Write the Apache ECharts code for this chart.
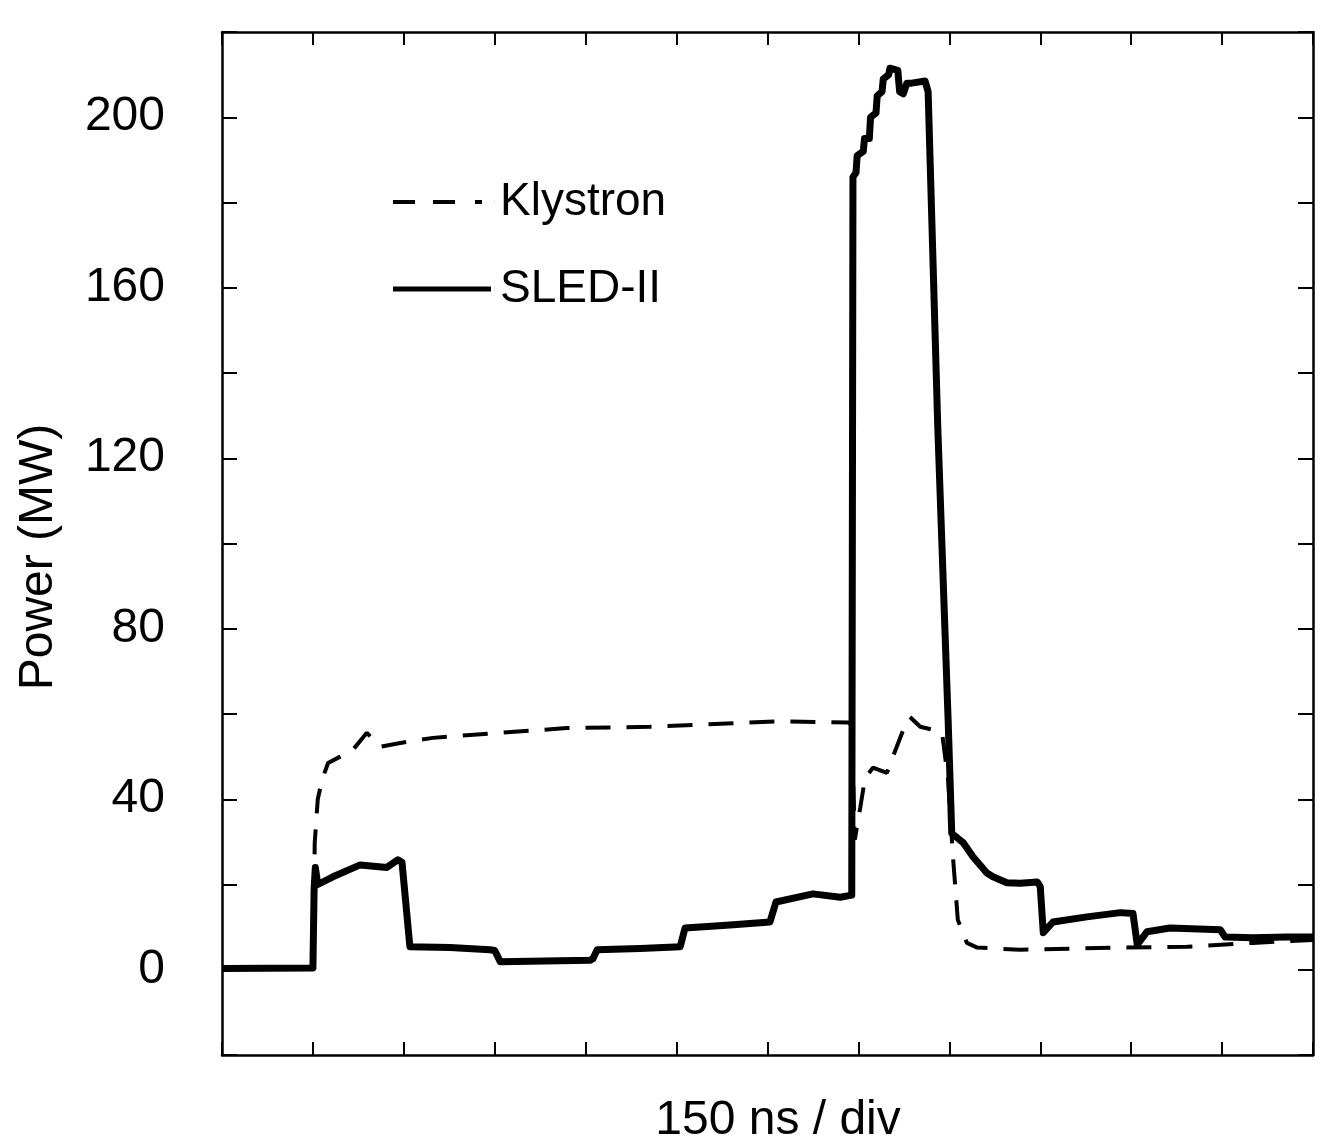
<!DOCTYPE html>
<html>
<head>
<meta charset="utf-8">
<title>Klystron / SLED-II power</title>
<script src="https://cdn.jsdelivr.net/npm/echarts@6/dist/echarts.min.js"></script>
<style>
    html, body { margin: 0; padding: 0; background: #fff; }
    #chart { width: 1332px; height: 1146px; }
</style>
</head>
<body>
<div id="chart"></div>
<script>
// time in ns (150 ns / div), power in MW
const klystronTime = [0, 150, 153, 158, 165, 175, 195, 216, 239, 261, 294, 348, 459, 569, 706, 921, 1033, 1039,
    1044, 1053, 1061, 1074, 1097, 1107, 1124, 1135, 1152, 1173, 1188, 1198, 1206, 1214, 1229, 1246, 1317, 1482, 1592, 1701, 1800];
const klystronPower = [0.3, 0.3, 29.8, 40, 44.5, 48.5, 50, 51.6, 55.6, 52.3, 53.2, 54.4, 55.6, 56.7, 57, 58.3, 58, 57.5,
    30.5, 38, 45, 47.4, 46.2, 50, 56.3, 59.3, 57, 56.3, 55.6, 44.5, 26.5, 11.7, 6.3, 5.2, 4.7, 5.2, 5.4, 6.3, 7];

const sledTime = [0, 150, 152, 154, 158, 183, 228, 272, 290, 297, 310, 376, 442, 450, 459, 607, 612, 619, 690, 756, 764,
    838, 904, 914, 975, 1020, 1039, 1041, 1046, 1048, 1058, 1060, 1068, 1070, 1079, 1081, 1089, 1091, 1100, 1102, 1115,
    1118, 1124, 1130, 1138, 1160, 1165, 1181, 1198,
    1204, 1223, 1239, 1262, 1272, 1295, 1317, 1345, 1350, 1355, 1371, 1427, 1482, 1503, 1510, 1526, 1564, 1647, 1655,
    1701, 1757, 1800];
const sledPower = [0.3, 0.4, 19, 24, 20, 21.8, 24.6, 24, 25.8, 25.2, 5.4, 5.2, 4.7, 4.5, 1.9, 2.2, 2.6, 4.7, 5.0, 5.4, 9.8,
    10.5, 11.2, 15.9, 17.8, 17, 17.5, 186, 187, 191, 192, 195, 195, 200, 201, 205, 206, 209, 210, 211.5, 211,
    206, 205.5, 208, 208, 208.5, 206, 127, 58.6,
    32, 29.8, 26.5, 22.7, 21.8, 20.4, 20.3, 20.6, 19.5, 8.7, 11.2, 12.4, 13.4, 13.2, 5.9, 8.9, 9.8, 9.4, 7.7,
    7.5, 7.7, 7.7];

const yLabels = [0, 40, 80, 120, 160, 200];

(function () {
    const my_echart = echarts.init(document.getElementById("chart"));
    const font = '"Liberation Sans", Arial, Helvetica, sans-serif';
    const pairs = (t, p) => t.map((v, i) => [v, p[i]]);

    // frame axis: line + inward ticks, no labels
    function frameX(position) {
        return {
            type: 'value',
            position: position,
            min: 0,
            max: 1800,
            interval: 150,
            axisLine: { show: true, onZero: false, lineStyle: { color: '#000', width: 2.5 } },
            axisTick: { show: true, inside: true, length: 13, lineStyle: { color: '#000', width: 2 } },
            axisLabel: { show: false },
            splitLine: { show: false }
        };
    }
    function frameY(position, labels) {
        return {
            type: 'value',
            position: position,
            min: -20,
            max: 220,
            interval: 20,
            axisLine: { show: true, onZero: false, lineStyle: { color: '#000', width: 2.5 } },
            axisTick: { show: true, inside: true, length: 15, lineStyle: { color: '#000', width: 2 } },
            axisLabel: {
                show: labels,
                margin: 57,
                color: '#000',
                fontFamily: font,
                fontSize: 48,
                formatter: v => (yLabels.includes(v) ? String(v) : '')
            },
            splitLine: { show: false }
        };
    }

    const dashIcon = 'path://M0,0H22V4H0Z M40,0H62V4H40Z M82,0H89V4H82Z M101.9,0H102V4H101.9Z';
    const solidIcon = 'path://M0,0H98V5H0Z M101.9,0H102V5H101.9Z';
    const legendText = { color: '#000', fontFamily: font, fontSize: 46 };

    let option = {
        backgroundColor: '#fff',
        animation: false,
        grid: { left: 222, top: 32, width: 1091, height: 1023, containLabel: false },
        xAxis: [frameX('bottom'), frameX('top')],
        yAxis: [frameY('left', true), frameY('right', false)],
        legend: [
            {
                data: [{ name: 'Klystron', icon: dashIcon }],
                left: 388, top: 174, itemWidth: 102, itemHeight: 4,
                selectedMode: false, textStyle: legendText
            },
            {
                data: [{ name: 'SLED-II', icon: solidIcon }],
                left: 388, top: 261, itemWidth: 102, itemHeight: 5,
                selectedMode: false, textStyle: legendText
            }
        ],
        graphic: [
            {
                type: 'text', x: 778, y: 1121,
                style: { text: '150 ns / div', fill: '#000', font: '48px ' + font, textAlign: 'center', textVerticalAlign: 'middle' }
            },
            {
                type: 'text', x: 39, y: 557, rotation: Math.PI / 2,
                style: { text: 'Power (MW)', fill: '#000', font: '48px ' + font, textAlign: 'center', textVerticalAlign: 'middle' }
            }
        ],
        series: [
            {
                name: 'Klystron',
                type: 'line',
                symbol: 'none',
                color: '#000',
                lineStyle: { color: '#000', width: 4, type: [25, 16] },
                data: pairs(klystronTime, klystronPower)
            },
            {
                name: 'SLED-II',
                type: 'line',
                symbol: 'none',
                color: '#000',
                lineStyle: { color: '#000', width: 7, join: 'round' },
                data: pairs(sledTime, sledPower)
            }
        ]
    };
    my_echart.setOption(option);
    window.addEventListener("resize", function () {
        my_echart.resize();
    });
})();
</script>
</body>
</html>
